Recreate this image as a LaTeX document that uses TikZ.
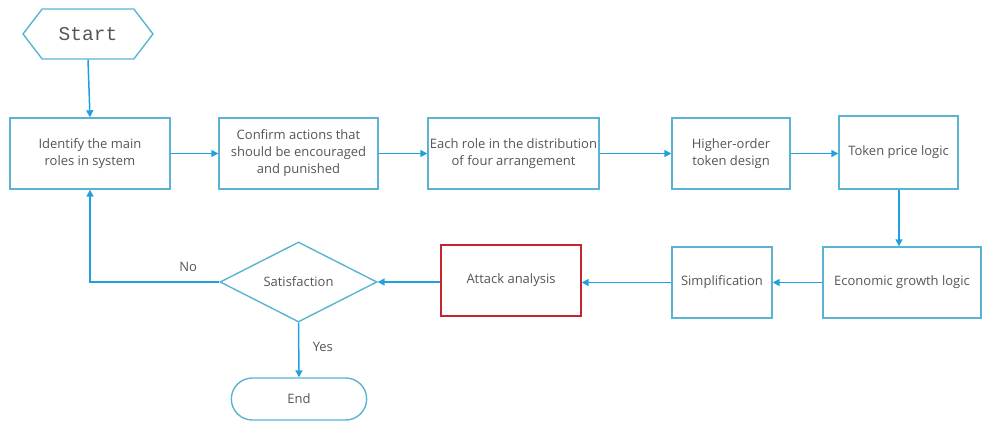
\documentclass[tikz,border=0pt]{standalone}
\usepackage{fontspec}
\setmainfont{Open Sans}
\newfontfamily\startfont{Liberation Mono}
\usetikzlibrary{arrows.meta,shapes.geometric,shapes.symbols,shapes.misc}
\definecolor{boxc}{HTML}{5BB3D3}
\definecolor{linec}{HTML}{1FA0DF}
\definecolor{txt}{HTML}{555555}
\definecolor{redc}{HTML}{C4262E}
\begin{document}
\begin{tikzpicture}[x=1pt,y=-1pt,
  every node/.style={text=txt,font=\fontsize{13}{17}\selectfont},
  box/.style={draw=boxc,line width=1.4pt,rectangle,align=center,inner sep=1pt},
  conn/.style={draw=linec,line width=1.5pt,-{Triangle[width=7pt,length=7pt]}}]
\useasboundingbox (0,0) rectangle (982,421);
\node[draw=boxc,line width=1.4pt,signal,signal to=west and east,signal pointer angle=105,minimum width=130,minimum height=50,inner sep=0pt,font=\startfont\fontsize{19.5}{22}\selectfont] (start) at (88,34) {Start};
\node[box,minimum width=160,minimum height=71] (b1) at (90,153.5) {Identify the main\\roles in system};
\node[box,minimum width=159,minimum height=71] (b2) at (298.5,153.5) {Confirm actions that\\should be encouraged\\and punished};
\node[box,minimum width=171,minimum height=71] (b3) at (513.5,153.5) {Each role in the distribution\\of four arrangement};
\node[box,minimum width=118,minimum height=71] (b4) at (731,153.5) {Higher-order\\token design};
\node[box,minimum width=119,minimum height=73] (b5) at (898.5,152.5) {Token price logic};
\node[box,minimum width=158,minimum height=71] (econ) at (902,282.5) {Economic growth logic};
\node[box,minimum width=100,minimum height=71] (simp) at (722,282.5) {Simplification};
\node[box,draw=redc,minimum width=140,minimum height=71] (att) at (511,280.5) {Attack analysis};
\node[draw=boxc,line width=1.4pt,diamond,minimum width=157,minimum height=74,inner sep=0pt] (sat) at (298.5,282) {Satisfaction};
\node[draw=boxc,line width=1.4pt,rounded rectangle,minimum width=142,minimum height=42] (end) at (299,399) {End};
\draw[conn] (start.south) -- (b1.north);
\draw[conn] (b1.east) -- (b2.west);
\draw[conn] (b2.east) -- (b3.west);
\draw[conn] (b3.east) -- (b4.west);
\draw[conn] (b4.east) -- (b4.east -| b5.west);
\draw[conn] (b5.south -| 899,0) -- (899,0 |- econ.north);
\draw[conn] (econ.west) -- (simp.east);
\draw[conn] (simp.west) -- (simp.west -| att.east);
\draw[conn] (att.west |- sat.east) -- (sat.east);
\draw[conn] (sat.west) -| node[pos=0.12,above=6pt] {No} (b1.south);
\draw[conn] (sat.south) -- node[right=10pt,pos=0.45] {Yes} (end.north);
\end{tikzpicture}
\end{document}
